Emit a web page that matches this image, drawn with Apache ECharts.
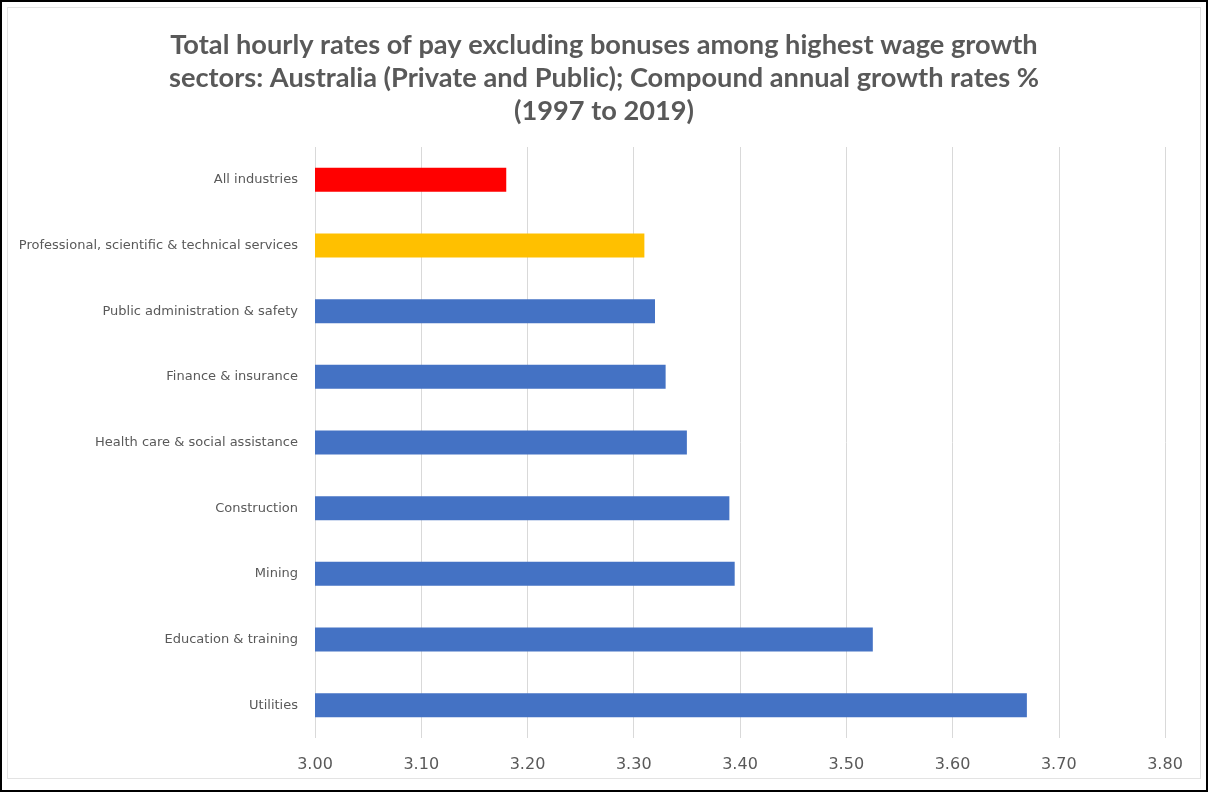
<!DOCTYPE html>
<html>
<head>
<meta charset="utf-8">
<title>Total hourly rates of pay excluding bonuses</title>
<script src="https://cdn.jsdelivr.net/npm/echarts@6/dist/echarts.min.js"></script>
<style>
  html, body { margin: 0; padding: 0; background: #ffffff; }
  #frame {
    position: absolute; left: 0; top: 0; width: 1208px; height: 792px;
    box-sizing: border-box; border: 2px solid #000000;
  }
  #inner {
    position: absolute; left: 5px; top: 5px; right: 5px; bottom: 11px;
    border: 1px solid #e3e3e3;
  }
  #chart { position: absolute; left: 0; top: 0; width: 1208px; height: 792px; }
</style>
</head>
<body>
<div id="frame"><div id="inner"></div></div>
<div id="chart"></div>
<script>
// Industries, top to bottom
const categories = [
  'All industries',
  'Professional, scientific & technical services',
  'Public administration & safety',
  'Finance & insurance',
  'Health care & social assistance',
  'Construction',
  'Mining',
  'Education & training',
  'Utilities'
];
// Compound annual growth rate of hourly pay, % (1997 to 2019)
const growthRates = [3.18, 3.31, 3.32, 3.33, 3.35, 3.39, 3.395, 3.525, 3.67];
// Bar fill per industry
const barColors = ['#FF0000', '#FFC000', '#4472C4', '#4472C4', '#4472C4', '#4472C4', '#4472C4', '#4472C4', '#4472C4'];
// Value axis range
const axisMin = 3.0;
const axisMax = 3.8;
const axisStep = 0.1;

const chart = echarts.init(document.getElementById('chart'), null, { renderer: 'canvas' });

chart.setOption({
  backgroundColor: 'transparent',
  animation: false,
  title: {
    text: 'Total hourly rates of pay excluding bonuses among highest wage growth\nsectors: Australia (Private and Public); Compound annual growth rates %\n(1997 to 2019)',
    left: 'center',
    top: 24,
    textStyle: {
      fontFamily: 'Lato',
      fontWeight: 'bold',
      fontSize: 27.2,
      lineHeight: 33,
      color: '#595959'
    }
  },
  grid: { left: 315, right: 43, top: 147, bottom: 54, containLabel: false },
  xAxis: {
    type: 'value',
    min: axisMin,
    max: axisMax,
    interval: axisStep,
    axisLine: { show: false },
    axisTick: { show: false },
    splitLine: { show: true, lineStyle: { color: '#d9d9d9', width: 1 } },
    axisLabel: {
      color: '#595959',
      fontFamily: 'DejaVu Sans',
      fontSize: 16,
      margin: 19,
      formatter: v => v.toFixed(2)
    }
  },
  yAxis: {
    type: 'category',
    inverse: true,
    data: categories,
    axisLine: { show: false },
    axisTick: { show: false },
    axisLabel: {
      color: '#595959',
      fontFamily: 'DejaVu Sans',
      fontSize: 13,
      margin: 17
    }
  },
  series: [{
    type: 'bar',
    data: growthRates.map((v, i) => ({ value: v, itemStyle: { color: barColors[i] } })),
    barWidth: 24
  }]
});
</script>
</body>
</html>
